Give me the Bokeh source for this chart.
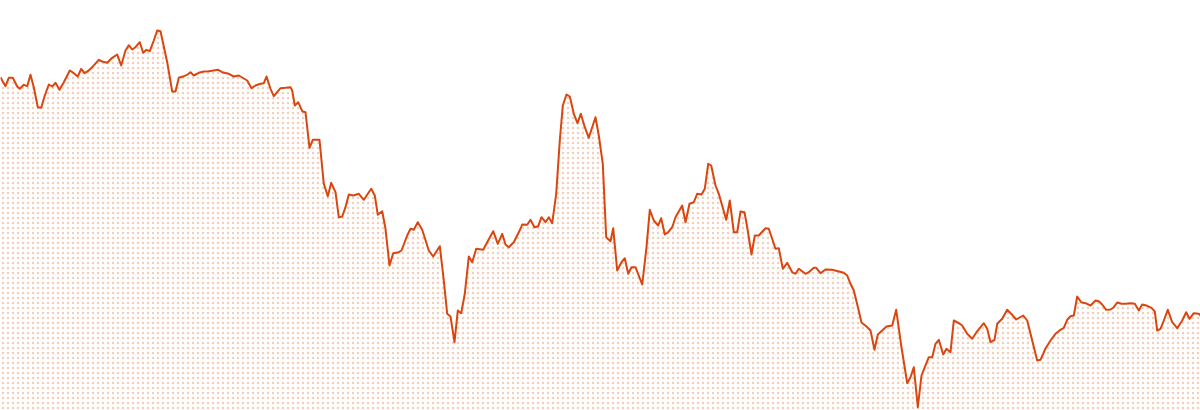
from bokeh.plotting import figure
from bokeh.models import Range1d, ColumnDataSource
from bokeh.embed import file_html
from bokeh.resources import INLINE

# trading-day position and index level
day = [0, 1.7, 5, 8.3, 12.3, 16.7, 19.3, 23.3, 26.7, 30, 33.3, 37.3, 40.7, 44.3, 48.3, 51.7, 55, 59, 63.3,
       69.3, 73.3, 77.3, 80.7, 84, 87.3, 91.7, 98.3, 101.7, 106.7, 111.7, 116.7, 120.7, 125, 128.3, 131.7,
       135, 139.3, 142.7, 146, 149.3, 153.3, 156.7, 160, 166.7, 171.7, 175, 178.3, 183.3, 186.7, 190,
       193.3, 198.3, 203.3, 208.3, 217.7, 221.7, 228.3, 233.3, 238.3, 246.7, 251, 255, 260, 263.3, 266,
       270, 273.3, 280, 285, 290, 291.7, 294.3, 297.7, 301.7, 305, 309, 312.3, 319, 323.3, 327.3, 330.7,
       335, 338.3, 341.7, 345, 348.3, 352.7, 358.3, 363.3, 370.7, 374.3, 377.3, 381.7, 385, 389, 392.7,
       398.3, 401, 406.7, 410, 413.3, 417.3, 421.7, 428.3, 432.7, 439.3, 443.3, 446.7, 450, 454, 457.3,
       460.7, 464.3, 468.3, 471.7, 475.7, 482.7, 486.7, 492.7, 497.3, 501.7, 505, 508.3, 513.3, 520,
       521.7, 526.7, 530, 534, 537.7, 541, 545, 548.3, 551.7, 555.7, 559.3, 562.3, 566, 569.3, 573.3,
       577, 580.3, 584.3, 588.3, 591.7, 595, 598.3, 602.3, 605.7, 610, 612.7, 616.7, 621, 624.3, 627.7,
       631, 635, 641.7, 646, 649.3, 653.3, 657.7, 660.7, 664.3, 667.7, 671.7, 675, 681.7, 685, 689,
       693.3, 696.7, 701, 704.3, 707.7, 710.7, 715, 718.3, 725.7, 729.3, 733.3, 736.7, 740, 744, 746.7,
       751, 754.3, 758.3, 765, 768.3, 775, 778.3, 782.3, 786.7, 791.7, 795, 798.3, 805, 808.3, 813.3,
       815.7, 820, 825, 831.7, 843.3, 846.7, 850, 853.3, 857, 861, 866, 870, 874, 877.3, 881.7, 886,
       891.7, 895.7, 900.7, 906.7, 910, 913.3, 917.3, 921, 924.3, 928.3, 931.7, 935, 938.3, 942.7, 946,
       950, 953.3, 958.3, 961.7, 966.7, 971.7, 976, 983.3, 986.7, 990, 994, 996.7, 1001.7, 1006.7,
       1011.7, 1015.7, 1022.7, 1026.7, 1031.7, 1036.7, 1040, 1045, 1050, 1055, 1060, 1063.3, 1066.7,
       1070, 1073.3, 1076.7, 1080.7, 1085, 1090, 1095, 1098.3, 1101.7, 1105.7, 1110, 1113.3, 1116.7,
       1121, 1125, 1130, 1134.3, 1138.3, 1141.7, 1146.7, 1151, 1154.3, 1156.7, 1160, 1163.3, 1167.3,
       1171.7, 1176.7, 1181.7, 1185.7, 1189, 1193.3, 1198.3, 1200]

level = [333.3, 330, 324.3, 332.7, 332.7, 324, 321.7, 325.7, 324.3, 335.7, 323.3, 303.3, 302.7, 315, 326,
         324, 327.7, 320.7, 328.3, 340, 337.3, 334, 341.7, 337.3, 339.3, 343.3, 350.7, 349, 347.7, 352.7,
         356, 345, 360, 365.3, 361, 363.3, 368.3, 357.7, 360.7, 359.3, 370, 380, 379.3, 348.3, 319, 319,
         332.7, 334.3, 335.7, 338.3, 335, 337.7, 339, 339.3, 340.7, 338.3, 336.7, 334, 335, 330, 322.3,
         325, 326.7, 327.3, 334, 321.7, 314.3, 322.3, 322.7, 323.3, 320, 305, 308.3, 299.3, 298.3, 262.7,
         270.7, 270.7, 226.7, 214.3, 227.7, 218.3, 193.3, 194, 203.3, 216, 215, 216.7, 210.7, 221.7, 215,
         195.7, 199.3, 181.7, 145, 157.3, 158.3, 160, 175, 181.7, 180.7, 188.3, 180.7, 160, 154, 164.3,
         130, 96.7, 94, 68.3, 100, 97.3, 116.7, 154, 148.3, 161.7, 160.7, 168.3, 179.3, 166.7, 176.7, 166,
         163.3, 168.3, 181.7, 186, 185.7, 190.7, 183.3, 184.3, 193.3, 188.3, 193.3, 187.3, 216.7, 270,
         305, 316, 314, 296.7, 287.3, 296.7, 283.3, 272.7, 283.3, 293.3, 275, 246.7, 173.3, 169.3, 182.3,
         140, 148.3, 152.3, 136.7, 143.3, 143.3, 126, 163.3, 200.7, 190, 185, 192.3, 176, 178.3, 183.3,
         193.3, 205, 188.3, 206.7, 208.3, 216.7, 216, 221.7, 246.7, 245, 225, 216.7, 190.7, 210, 178.3,
         178.3, 199, 198.3, 183.3, 156, 175, 175, 182.3, 181.7, 161.7, 162.3, 141.7, 147.7, 138.3, 136.7,
         141.7, 136.7, 138.3, 142.7, 142.7, 137.3, 141, 140.7, 137.7, 135, 126.7, 120, 105, 88, 84, 80,
         60.7, 76, 80, 84, 85, 100.7, 65, 27.3, 33.3, 43.3, 3.3, 35, 43.3, 53.3, 53.3, 66.7, 70.7, 56,
         61.7, 58.3, 90, 87.3, 85, 76.7, 71.7, 78.3, 87.3, 81.7, 68.3, 70.7, 86.7, 91.7, 100.7, 95.7, 91,
         95, 90, 70, 50, 50.7, 62, 70, 76.7, 80.7, 82.7, 90.7, 94.3, 95, 114, 108.3, 107.3, 105, 110,
         109.3, 106, 100.7, 101, 103.3, 108, 106.7, 106.7, 107.3, 106.7, 100, 106, 104.7, 102.7, 99, 80,
         81.7, 90, 100.7, 88.3, 82.3, 90, 98.3, 91.7, 97.3, 96.7, 95]

base = [0] * len(day)

src = ColumnDataSource(dict(day=day, level=level, base=base))

p = figure(width=1200, height=410, output_backend="svg", toolbar_location=None,
           x_range=Range1d(0, 1200), y_range=Range1d(0, 410),
           min_border=0, min_border_left=0, min_border_right=0, min_border_top=0, min_border_bottom=0)
p.axis.visible = False
p.grid.visible = False
p.outline_line_color = None
p.background_fill_color = "white"
p.border_fill_color = "white"

p.varea(x="day", y1="base", y2="level", source=src, fill_color=None, fill_alpha=0,
        hatch_pattern="dot", hatch_color="#f6cdb9", hatch_scale=5, hatch_weight=2.2, hatch_alpha=1.0)
p.line(x="day", y="level", source=src, line_color="#d9460f", line_width=2, line_join="round")

open("out.html", "w").write(file_html(p, INLINE))
